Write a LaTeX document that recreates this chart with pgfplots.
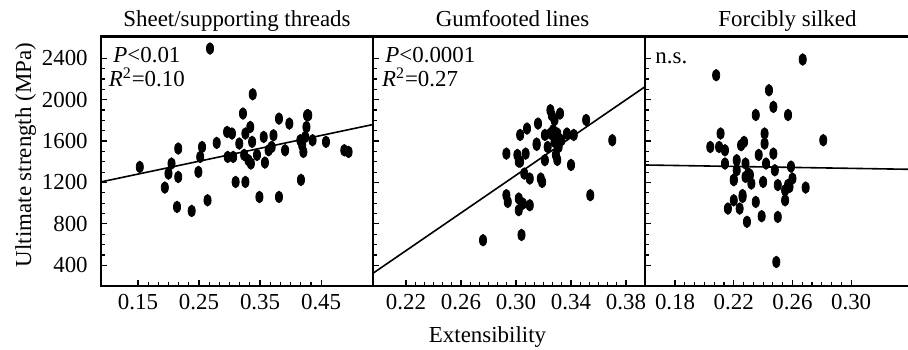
\documentclass[border=0pt]{standalone}
\usepackage{fontspec}
\setmainfont{Liberation Serif}
\usepackage{pgfplots}
\pgfplotsset{compat=1.18}
\begin{document}
\fontsize{11.5}{13}\selectfont
\begin{tikzpicture}
\useasboundingbox (0,0) rectangle (454bp,175bp);
\pgfplotsset{
  panel/.style={
    scale only axis, anchor=south west, height=125bp, ymin=200, ymax=2615,
    axis line style={line width=1bp}, tick style={black, line width=0.6bp},
    major tick length=3bp, minor tick length=2bp, tick align=inside,
    xtick pos=bottom, ytick pos=left,
    ytick={400,800,1200,1600,2000,2400}, minor y tick num=3, minor x tick num=5,
    /pgf/number format/assume math mode=true,
    tick label style={font=\fontsize{11.5}{13}\selectfont},
    xticklabel style={/pgf/number format/.cd, fixed, fixed zerofill, precision=2},
    yticklabel style={xshift=-2.5bp, /pgf/number format/.cd, set thousands separator={}},
  },
  dots/.style={only marks, mark=*, mark size=2.9, mark options={xscale=0.62, fill=black, draw=black}},
  fit/.style={black, line width=0.8bp, no marks},
}
% Panel 1
\begin{axis}[panel, at={(50.35bp,32bp)}, width=136.15bp, xmin=0.089, xmax=0.535,
  xtick={0.15,0.25,0.35,0.45}]
\addplot[dots] coordinates {(0.153,1350) (0.194,1151) (0.200,1286) (0.205,1383) (0.214,964) (0.216,1253) (0.216,1528) (0.238,925) (0.249,1302) (0.252,1447) (0.255,1543) (0.264,1028) (0.268,2494) (0.279,1582) (0.296,1688) (0.297,1447) (0.304,1673) (0.306,1447) (0.310,1205) (0.316,1576) (0.322,1866) (0.324,1466) (0.326,1205) (0.326,1673) (0.331,1415) (0.334,1736) (0.335,1383) (0.337,1592) (0.338,2052) (0.345,1466) (0.349,1060) (0.356,1640) (0.358,1392) (0.364,1511) (0.369,1543) (0.372,1656) (0.381,1817) (0.381,1060) (0.391,1511) (0.398,1769) (0.416,1608) (0.417,1225) (0.419,1560) (0.421,1495) (0.424,1640) (0.426,1736) (0.427,1849) (0.429,1849) (0.436,1608) (0.458,1592) (0.488,1511) (0.495,1495)};
\addplot[fit] coordinates {(0.089,1205) (0.535,1760)};
\draw[line width=1.6bp] (rel axis cs:0,1) -- (rel axis cs:1,1);
\end{axis}
% Panel 2
\begin{axis}[panel, at={(186.5bp,32bp)}, width=136bp, xmin=0.196, xmax=0.3938,
  xtick={0.22,0.26,0.30,0.34,0.38}, yticklabels={}]
\addplot[dots] coordinates {(0.276,642) (0.293,1479) (0.293,1077) (0.294,1012) (0.301,1466) (0.302,1402) (0.302,932) (0.302,1045) (0.303,1659) (0.303,1402) (0.304,693) (0.305,996) (0.306,1286) (0.307,1479) (0.308,1721) (0.310,1238) (0.310,980) (0.315,1576) (0.315,1563) (0.316,1769) (0.318,1238) (0.319,1205) (0.321,1659) (0.321,1415) (0.323,1543) (0.325,1673) (0.325,1898) (0.326,1849) (0.327,1706) (0.328,1592) (0.328,1804) (0.329,1466) (0.330,1418) (0.330,1673) (0.331,1543) (0.332,1866) (0.333,1608) (0.337,1673) (0.340,1369) (0.342,1659) (0.351,1804) (0.354,1077) (0.370,1608)};
\addplot[fit] coordinates {(0.196,323) (0.3938,2125)};
\draw[line width=1.6bp] (rel axis cs:0,1) -- (rel axis cs:1,1);
\end{axis}
% Panel 3
\begin{axis}[panel, at={(322.5bp,32bp)}, width=136bp, xmin=0.1595, xmax=0.3449,
  xtick={0.18,0.22,0.26,0.30}, yticklabels={}]
\addplot[dots] coordinates {(0.204,1543) (0.208,2236) (0.210,1543) (0.211,1673) (0.214,1511) (0.214,1383) (0.216,948) (0.220,1028) (0.220,1222) (0.220,1228) (0.222,1415) (0.222,1318) (0.224,948) (0.225,1560) (0.226,1060) (0.226,1078) (0.227,1592) (0.228,1383) (0.228,1254) (0.229,820) (0.230,1286) (0.231,1273) (0.232,1190) (0.235,1852) (0.235,1012) (0.237,1466) (0.239,874) (0.240,1205) (0.241,1673) (0.241,1576) (0.242,1383) (0.244,2091) (0.247,1930) (0.247,1479) (0.248,1318) (0.249,432) (0.250,1175) (0.250,867) (0.255,1028) (0.255,1125) (0.257,1852) (0.257,1176) (0.258,1157) (0.259,1353) (0.260,1238) (0.267,2388) (0.269,1151) (0.281,1608)};
\addplot[fit] coordinates {(0.1595,1369) (0.3449,1326)};
\draw[line width=1.6bp] (rel axis cs:0,1) -- (rel axis cs:1,1);
\end{axis}
% Titles and labels
\node[anchor=base] at (118.5bp,161.5bp) {Sheet/supporting threads};
\node[anchor=base] at (256.25bp,161.5bp) {Gumfooted lines};
\node[anchor=base] at (393.75bp,161.5bp) {Forcibly silked};
\node[anchor=base west, inner sep=0pt] at (56.5bp,143.6bp) {\textit{P}<0.01};
\node[anchor=base west, inner sep=0pt] at (54.2bp,131.6bp) {\textit{R}\textsuperscript{2}=0.10};
\node[anchor=base west, inner sep=0pt] at (192.5bp,143.6bp) {\textit{P}<0.0001};
\node[anchor=base west, inner sep=0pt] at (190.8bp,131.5bp) {\textit{R}\textsuperscript{2}=0.27};
\node[anchor=base west, inner sep=0pt] at (327.5bp,143.3bp) {n.s.};
\node[anchor=base, rotate=90] at (15.5bp,97.5bp) {Ultimate strength (MPa)};
\node[anchor=base] at (243.75bp,4bp) {Extensibility};
\end{tikzpicture}
\end{document}
